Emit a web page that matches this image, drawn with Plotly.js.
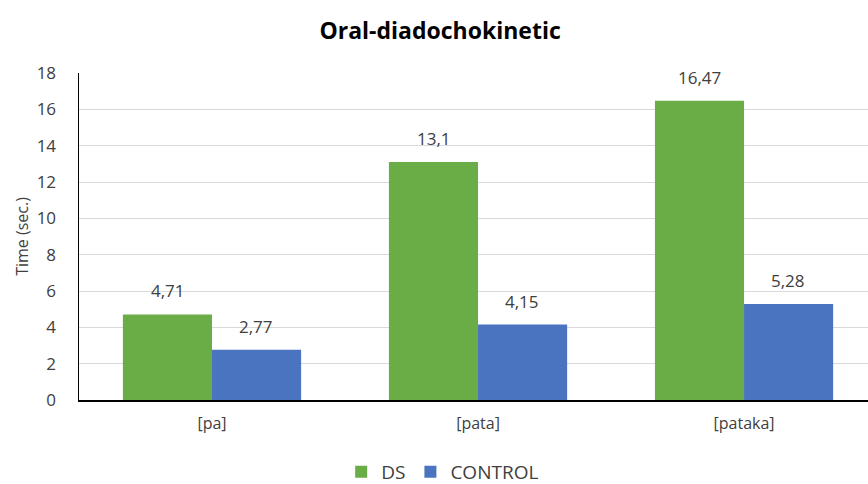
<!DOCTYPE html>
<html>
<head>
<meta charset="utf-8">
<script src="https://cdn.plot.ly/plotly-3.0.1.min.js"></script>
<style>html,body{margin:0;padding:0;background:#fff;}#chart{width:868px;height:484px;}</style>
</head>
<body>
<div id="chart"></div>
<script>
const categories = ["[pa]", "[pata]", "[pataka]"];
const dsValues = [4.71, 13.1, 16.47];
const controlValues = [2.77, 4.15, 5.28];
const dsLabels = ["4,71", "13,1", "16,47"];
const controlLabels = ["2,77", "4,15", "5,28"];
const yTicks = [0, 2, 4, 6, 8, 10, 12, 14, 16, 18];

const font = "Open Sans, Noto Sans, sans-serif";

const traces = [
  {type: "bar", name: "DS", x: categories, y: dsValues,
   marker: {color: "#6aad46"}, hoverinfo: "none"},
  {type: "bar", name: "CONTROL", x: categories, y: controlValues,
   marker: {color: "#4a74c0"}, hoverinfo: "none"}
];

const annotations = [];
categories.forEach((c, i) => {
  annotations.push({x: i - 0.167, y: dsValues[i], xref: "x", yref: "y", text: dsLabels[i],
    showarrow: false, yanchor: "bottom", yshift: 10, font: {family: font, size: 17, color: "#404040"}});
  annotations.push({x: i + 0.167, y: controlValues[i], xref: "x", yref: "y", text: controlLabels[i],
    showarrow: false, yanchor: "bottom", yshift: 10, font: {family: font, size: 17, color: "#404040"}});
});

const layout = {
  width: 868, height: 484,
  margin: {l: 79, r: 0, t: 73, b: 84},
  paper_bgcolor: "#ffffff", plot_bgcolor: "#ffffff",
  font: {family: font, color: "#404040"},
  title: {text: "<b>Oral-diadochokinetic</b>", x: 0.507, xref: "container", xanchor: "center",
    y: 1 - 31/484, yref: "container", yanchor: "middle",
    font: {family: font, size: 23, color: "#000000"}},
  barmode: "group", bargap: 0.33, bargroupgap: 0,
  xaxis: {type: "category", range: [-0.5, 2.466], showline: true, linecolor: "#000000", linewidth: 1.5,
    showgrid: false, ticks: "", ticklabelstandoff: 8, tickfont: {family: font, size: 16, color: "#404040"},
    fixedrange: true},
  yaxis: {range: [0, 18], tickvals: yTicks, showline: true, linecolor: "#000000", linewidth: 1.5,
    showgrid: true, gridcolor: "#d9d9d9", gridwidth: 1, zeroline: false, ticks: "",
    ticklabelstandoff: 18, tickfont: {family: font, size: 17, color: "#404040"},
    title: {text: "Time (sec.)", font: {family: font, size: 16, color: "#404040"}, standoff: 4},
    fixedrange: true},
  showlegend: true,
  legend: {orientation: "h", x: 0.51, xref: "container", xanchor: "center", y: 12/484, yref: "container", yanchor: "middle",
    font: {family: font, size: 19, color: "#404040"}, itemwidth: 30, traceorder: "normal"},
  annotations: annotations
};

Plotly.newPlot("chart", traces, layout, {displayModeBar: false, staticPlot: true});
</script>
</body>
</html>
